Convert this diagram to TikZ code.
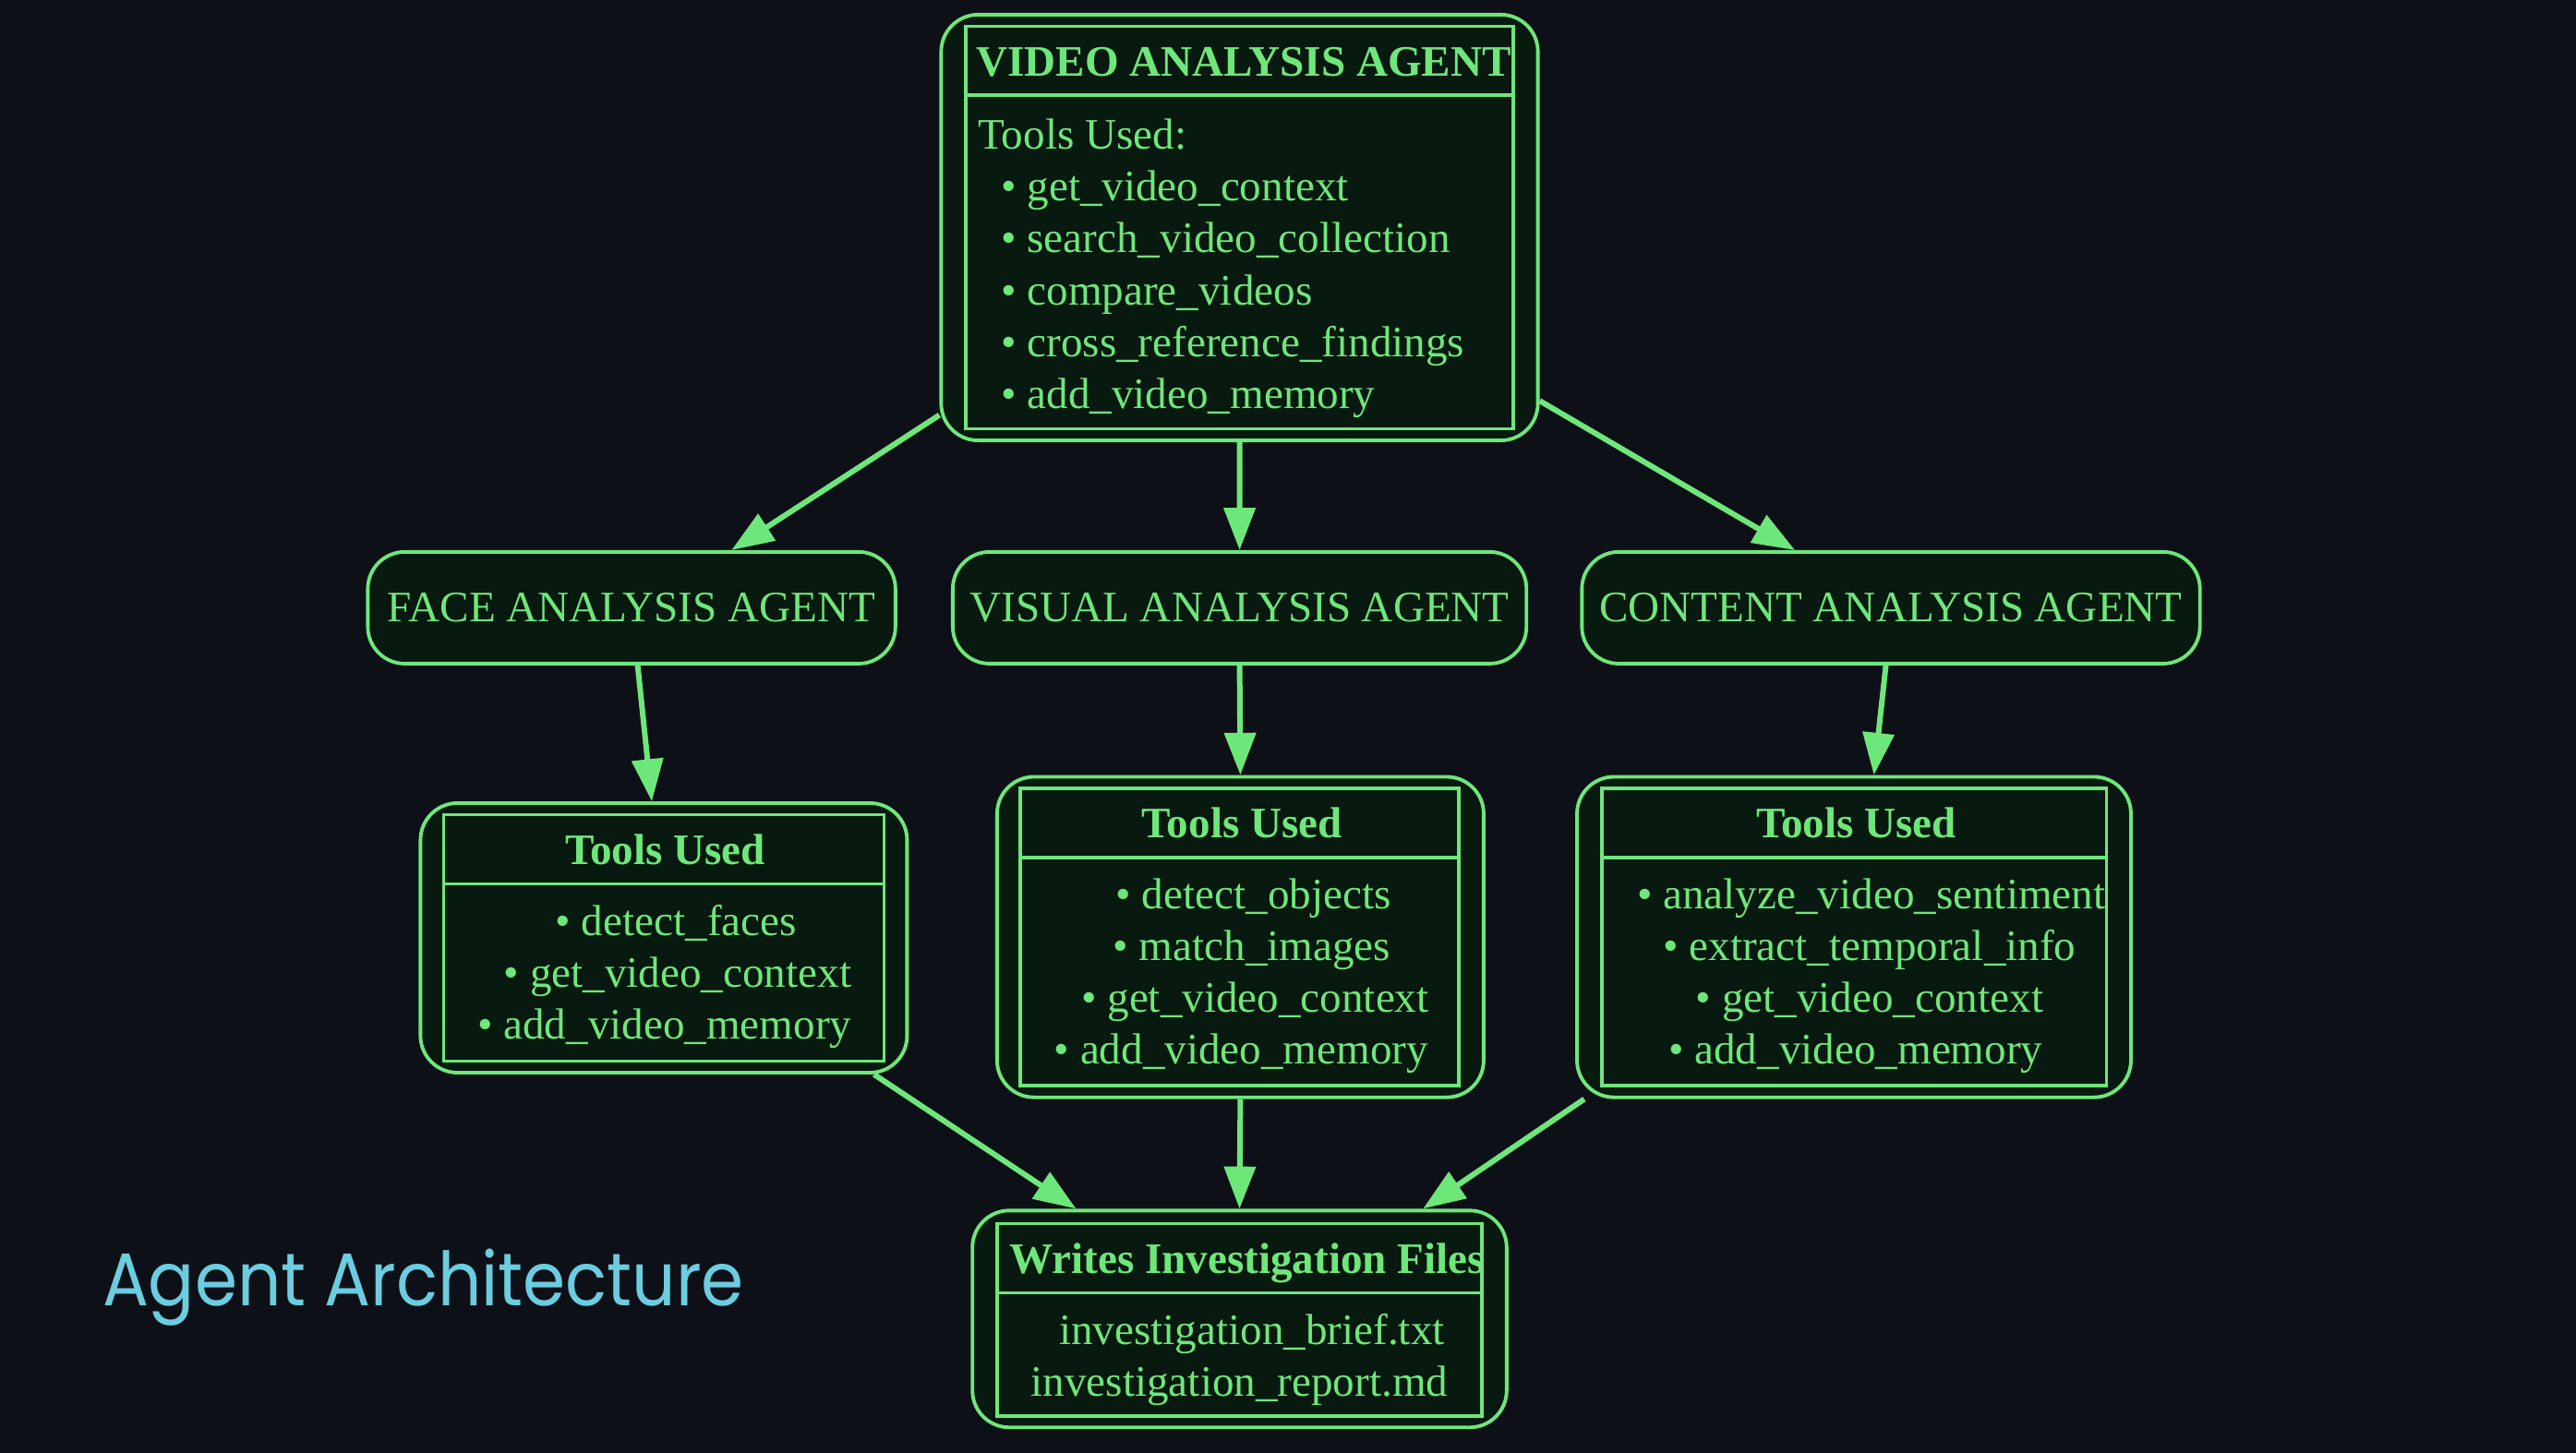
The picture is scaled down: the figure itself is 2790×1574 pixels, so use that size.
\documentclass[tikz,border=0pt]{standalone}
\usepackage{fontspec}
\setmainfont{Liberation Serif}
\newfontfamily\titlefont{Poppins}
\usetikzlibrary{arrows.meta,calc}
\definecolor{bg}{HTML}{0D1117}
\definecolor{lime}{HTML}{6EE77A}
\definecolor{panel}{HTML}{08190F}
\definecolor{sky}{HTML}{6CCCE0}

\tikzset{
  agent/.style={draw=lime, fill=panel, line width=1.1pt, rounded corners=0.4cm, inner sep=0pt,
                text=lime, font=\fontsize{13.4}{16}\selectfont},
  frame/.style={draw=lime, line width=1pt, inner sep=0pt},
  rulel/.style={draw=lime, line width=1pt},
  txt/.style={text=lime, font=\fontsize{13.4}{16}\selectfont, inner sep=0pt},
  hdr/.style={text=lime, font=\fontsize{13.4}{16}\selectfont\bfseries, inner sep=0pt, anchor=base},
  link/.style={draw=lime, line width=1.7pt, -{Triangle[length=13pt,width=9.5pt]}},
}

\begin{document}
\begin{tikzpicture}[x=0.01cm, y=-0.01cm]
\fill[bg] (0,0) rectangle (2790,1574);
\useasboundingbox (0,0) rectangle (2790,1574);

% ---------- top agent ----------
\node[agent, minimum width=6.459cm, minimum height=4.609cm] (video) at (1342.5,246.5) {};
\node[frame, minimum width=5.925cm, minimum height=4.359cm] (videoin) at (1342.5,246.5) {};
\draw[rulel] ([yshift=-0.765cm]videoin.north west) -- ([yshift=-0.765cm]videoin.north east);
\node[hdr] (videohdr) at (1347,82.5) {VIDEO ANALYSIS AGENT};
\node[txt, anchor=base west] (videotools) at (1058.7,161.5) {Tools Used:};
\foreach \t [count=\i] in {get\_video\_context, search\_video\_collection, compare\_videos,
                          cross\_reference\_findings, add\_video\_memory}
  \node[txt, anchor=base west] (videot\i) at (1083.6,{161.5+56.2*\i}) {• \t};

% ---------- second row agents ----------
\node[agent, minimum width=5.711cm, minimum height=1.21cm] (face) at (684.1,658.4) {FACE ANALYSIS AGENT};
\node[agent, minimum width=6.21cm, minimum height=1.21cm] (visual) at (1342.6,658.4) {VISUAL ANALYSIS AGENT};
\node[agent, minimum width=6.69cm, minimum height=1.21cm] (content) at (2048,658.4) {CONTENT ANALYSIS AGENT};

% ---------- face tools ----------
\node[agent, minimum width=5.267cm, minimum height=2.918cm] (facetools) at (718.9,1016) {};
\node[frame, minimum width=4.769cm, minimum height=2.67cm] (facein) at (718.9,1016) {};
\draw[rulel] ([yshift=-0.766cm]facein.north west) -- ([yshift=-0.766cm]facein.north east);
\node[hdr] (facehdr) at (720.6,936.5) {Tools Used};
\node[txt, anchor=base] (facet1) at (732.2,1014) {• detect\_faces};
\node[txt, anchor=base] (facet2) at (734,1070) {• get\_video\_context};
\node[txt, anchor=base] (facet3) at (719.7,1126) {• add\_video\_memory};

% ---------- visual tools ----------
\node[agent, minimum width=5.267cm, minimum height=3.47cm] (vistools) at (1343.4,1015.1) {};
\node[frame, minimum width=4.75cm, minimum height=3.22cm] (visin) at (1342.5,1015) {};
\draw[rulel] ([yshift=-0.766cm]visin.north west) -- ([yshift=-0.766cm]visin.north east);
\node[hdr] (vishdr) at (1345.2,908) {Tools Used};
\node[txt, anchor=base] (vist1) at (1357.6,985) {• detect\_objects};
\node[txt, anchor=base] (vist2) at (1355.9,1041) {• match\_images};
\node[txt, anchor=base] (vist3) at (1359.4,1097) {• get\_video\_context};
\node[txt, anchor=base] (vist4) at (1344.3,1153) {• add\_video\_memory};

% ---------- content tools ----------
\node[agent, minimum width=5.996cm, minimum height=3.47cm] (contools) at (2008,1015.1) {};
\node[frame, minimum width=5.462cm, minimum height=3.22cm] (conin) at (2008,1015) {};
\draw[rulel] ([yshift=-0.766cm]conin.north west) -- ([yshift=-0.766cm]conin.north east);
\node[hdr] (conhdr) at (2010.6,908) {Tools Used};
\node[txt, anchor=base] (cont1) at (2026.7,985) {• analyze\_video\_sentiment};
\node[txt, anchor=base] (cont2) at (2024.9,1041) {• extract\_temporal\_info};
\node[txt, anchor=base] (cont3) at (2024.9,1097) {• get\_video\_context};
\node[txt, anchor=base] (cont4) at (2009.8,1153) {• add\_video\_memory};

% ---------- output files ----------
\node[agent, minimum width=5.783cm, minimum height=2.348cm] (files) at (1342.5,1428.8) {};
\node[frame, minimum width=5.25cm, minimum height=2.082cm] (filesin) at (1342.5,1429.7) {};
\draw[rulel] ([yshift=-0.765cm]filesin.north west) -- ([yshift=-0.765cm]filesin.north east);
\node[hdr] (fileshdr) at (1350.5,1379.5) {Writes Investigation Files};
\node[txt, anchor=base] (file1) at (1355.9,1457) {investigation\_brief.txt};
\node[txt, anchor=base] (file2) at (1342.5,1513) {investigation\_report.md};

% ---------- caption ----------
\node[text=sky, font=\titlefont\fontsize{23}{28}\selectfont, anchor=base west, inner sep=0pt]
  (caption) at (110.3,1414.6) {\scalebox{0.917}[1]{Agent Architecture}};

% ---------- connectors ----------
\draw[link] (video.212.2) -- (face.30.9);
\draw[link] (video.south) -- (visual.north);
\draw[link] (video.-30.4) -- (content.149.6);
\draw[link] (face.-84.1) -- (facetools.95.6);
\draw[link] (visual.south) -- (vistools.north);
\draw[link] (content.-95) -- (contools.83.3);
\draw[link] (facetools.-33.5) -- (files.146.4);
\draw[link] (vistools.south) -- (files.north);
\draw[link] (contools.211.6) -- (files.31.5);
\end{tikzpicture}
\end{document}
